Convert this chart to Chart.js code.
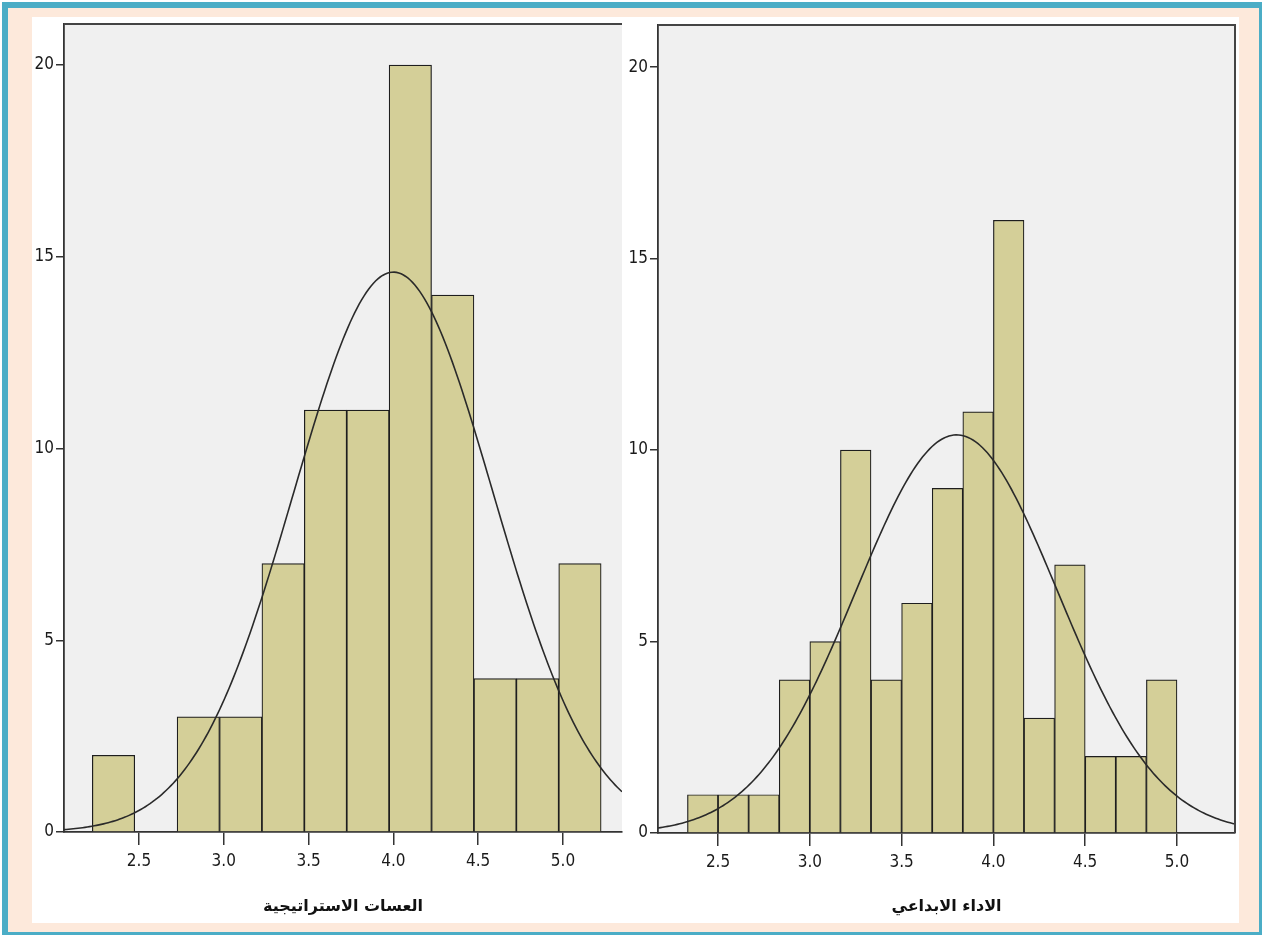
<!DOCTYPE html>
<html>
<head>
<meta charset="utf-8">
<script src="https://cdn.jsdelivr.net/npm/chart.js@4.4.1/dist/chart.umd.min.js"></script>
<style>
    html, body { margin: 0; padding: 0; background: #fff; width: 1262px; height: 935px; overflow: hidden; }
    #frame { position: absolute; left: 2px; top: 2px; width: 1263px; height: 936px; box-sizing: border-box;
             border: 6px solid #4badc6; background: #fde9db; }
    #panel { position: absolute; left: 32px; top: 17px; width: 1207px; height: 906px; background: #fff; }
    canvas { position: absolute; }
</style>
</head>
<body>
<div id="frame"></div>
<div id="panel"></div>
<canvas id="leftChart" width="596" height="906" style="left:32px;top:17px"></canvas>
<canvas id="rightChart" width="611" height="906" style="left:628px;top:17px"></canvas>

<script>
// --- data ---
// left histogram: bins of 0.25
const leftCenters = [2.35, 2.6, 2.85, 3.1, 3.35, 3.6, 3.85, 4.1, 4.35, 4.6, 4.85, 5.1];
const leftCounts  = [2, 0, 3, 3, 7, 11, 11, 20, 14, 4, 4, 7];
const leftTitle   = 'العسات الاستراتيجية';
const leftMean = 4.0, leftSd = 0.5875, leftBin = 0.25;

// right histogram: bins of 1/6
const rightCenters = [2.4167, 2.5833, 2.75, 2.9167, 3.0833, 3.25, 3.4167, 3.5833,
                      3.75, 3.9167, 4.0833, 4.25, 4.4167, 4.5833, 4.75, 4.9167];
const rightCounts  = [1, 1, 1, 4, 5, 10, 4, 6, 9, 11, 16, 3, 7, 2, 2, 4];
const rightTitle   = 'الاداء الابداعي';
const rightMean = 3.80, rightSd = 0.550, rightBin = 1 / 6;

const sampleSize = 86;
const xTicks = [2.5, 3.0, 3.5, 4.0, 4.5, 5.0];
const yTicks = [0, 5, 10, 15, 20];

const tickFont = { family: '"DejaVu Sans Condensed", "Liberation Sans Narrow", "Liberation Sans", sans-serif', size: 17 };

// SPSS style normal curve over the histogram (mean / sd)
function normalCurve(mean, sd, bin, xMin, xMax) {
    const pts = [];
    const steps = 240;
    for (let i = 0; i <= steps; i++) {
        const x = xMin + (xMax - xMin) * i / steps;
        const z = (x - mean) / sd;
        pts.push({ x: x, y: sampleSize * bin * Math.exp(-0.5 * z * z) / (sd * Math.sqrt(2 * Math.PI)) });
    }
    return pts;
}

// plot background and the frame lines that are not axes
const plotFrame = {
    id: 'plotFrame',
    beforeDraw(chart, args, opts) {
        const a = chart.chartArea, ctx = chart.ctx;
        ctx.save();
        ctx.fillStyle = '#f0f0f0';
        ctx.fillRect(a.left, a.top, a.right - a.left, a.bottom - a.top);
        ctx.restore();
    },
    afterDraw(chart, args, opts) {
        const a = chart.chartArea, ctx = chart.ctx;
        ctx.save();
        ctx.strokeStyle = '#444';
        ctx.lineWidth = 2;
        ctx.beginPath();
        ctx.moveTo(a.left, a.top);
        ctx.lineTo(a.right, a.top);
        if (opts.right) ctx.lineTo(a.right, a.bottom);
        ctx.stroke();
        ctx.restore();
    }
};

function makeHistogram(id, cfg) {
    new Chart(document.getElementById(id), {
        data: {
            datasets: [{
                type: 'line',
                order: 0,
                data: normalCurve(cfg.mean, cfg.sd, cfg.bin, cfg.xMin, cfg.xMax),
                borderColor: '#2a2a2a',
                borderWidth: 1.6,
                pointRadius: 0,
                tension: 0
            }, {
                type: 'bar',
                order: 1,
                data: cfg.centers.map((c, i) => ({ x: c, y: cfg.counts[i] })),
                backgroundColor: '#d4cf98',
                borderColor: '#1e1e1e',
                borderWidth: 1.2,
                barPercentage: 1,
                categoryPercentage: 1
            }]
        },
        options: {
            responsive: false,
            animation: false,
            events: [],
            layout: { padding: cfg.padding },
            plugins: {
                legend: { display: false },
                tooltip: { enabled: false },
                plotFrame: { right: cfg.frameRight }
            },
            scales: {
                x: {
                    type: 'linear',
                    min: cfg.xMin,
                    max: cfg.xMax,
                    offset: false,
                    afterBuildTicks: s => { s.ticks = xTicks.map(v => ({ value: v })); },
                    afterFit: s => { s.height = cfg.xHeight; s.paddingLeft = 0; s.paddingRight = 0; },
                    grid: { display: true, drawOnChartArea: false, offset: false, tickLength: 13, color: '#333', lineWidth: 1.5 },
                    border: { display: true, color: '#333', width: 1.8 },
                    ticks: { font: tickFont, color: '#1a1a1a', padding: 6, maxRotation: 0, callback: v => v.toFixed(1) },
                    title: {
                        display: true,
                        text: cfg.title,
                        color: '#111',
                        font: { family: '"DejaVu Sans", "Noto Sans", sans-serif', size: 16, weight: 'bold' },
                        padding: { top: 0, bottom: 7 }
                    }
                },
                y: {
                    min: 0,
                    max: cfg.yMax,
                    afterBuildTicks: s => { s.ticks = yTicks.map(v => ({ value: v })); },
                    afterFit: s => { s.width = cfg.yWidth; s.paddingTop = 0; s.paddingBottom = 0; },
                    grid: { display: true, drawOnChartArea: false, tickLength: 8, color: '#333', lineWidth: 1.5 },
                    border: { display: true, color: '#333', width: 1.8 },
                    ticks: { font: tickFont, color: '#1a1a1a', padding: 2 }
                }
            }
        },
        plugins: [plotFrame]
    });
}

makeHistogram('leftChart', {
    centers: leftCenters, counts: leftCounts, title: leftTitle,
    mean: leftMean, sd: leftSd, bin: leftBin,
    xMin: 2.058, xMax: 5.348, yMax: 21.07,
    padding: { top: 7, right: 6, left: 0, bottom: 0 },
    xHeight: 91, yWidth: 32, frameRight: false
});

makeHistogram('rightChart', {
    centers: rightCenters, counts: rightCounts, title: rightTitle,
    mean: rightMean, sd: rightSd, bin: rightBin,
    xMin: 2.173, xMax: 5.316, yMax: 21.1,
    padding: { top: 8, right: 4, left: 0, bottom: 0 },
    xHeight: 90, yWidth: 30, frameRight: true
});
</script>
</body>
</html>
